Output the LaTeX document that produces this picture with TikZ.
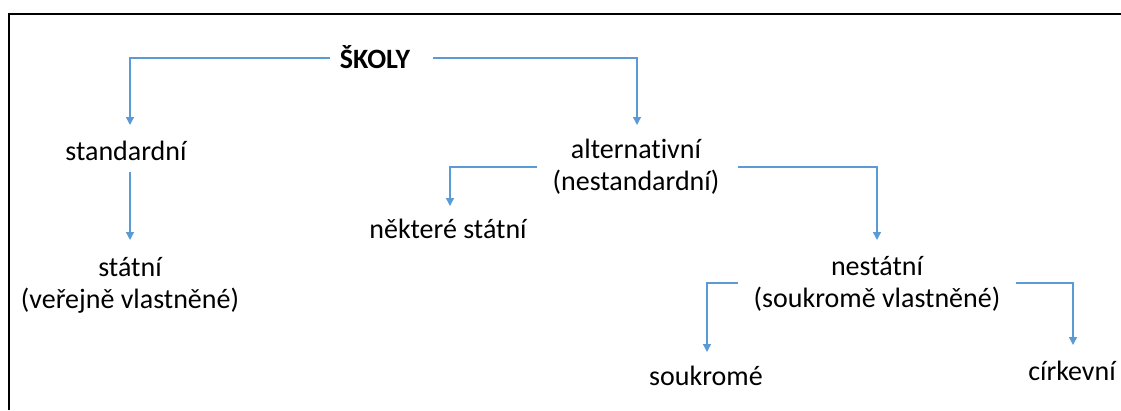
\documentclass[tikz,border=0pt]{standalone}
\usepackage{fontspec}
\setmainfont{Carlito}[Ligatures=NoCommon]
\usetikzlibrary{arrows.meta}
\definecolor{conncol}{RGB}{91,155,213}
\begin{document}
\begin{tikzpicture}[x=1pt,y=-1pt,
  lbl/.style={font=\fontsize{28}{32}\selectfont, inner sep=0pt, anchor=base, align=center},
  conn/.style={draw=conncol, line width=1.3pt, -{Triangle[width=8pt,length=8pt]}}]
\useasboundingbox (0,0) rectangle (1121,410);
\draw[line width=2pt] (9,410) -- (9,14) -- (1121,14);
\node[lbl,font=\bfseries\fontsize{28}{32}\selectfont] (skoly) at (375,68) {ŠKOLY};
\node[lbl] (standard) at (126,160) {standardní};
\node[lbl] (alt) at (636,190) {alternativní\\(nestandardní)};
\node[lbl] (nekt) at (448,238) {některé státní};
\node[lbl] (statni) at (130,308) {státní\\(veřejně vlastněné)};
\node[lbl] (nestatni) at (877,307) {nestátní\\(soukromě vlastněné)};
\node[lbl] (soukrome) at (706,385) {soukromé};
\node[lbl] (cirkevni) at (1072,380) {církevní};
\draw[conn] ([shift={(-45,-10)}]skoly.base) -| ([shift={(4,-35)}]standard.base);
\draw[conn] ([shift={(58,-10)}]skoly.base) -| ([shift={(1,-65)}]alt.base);
\draw[conn] ([shift={(4,12)}]standard.base) -- ([shift={(0,-68)}]statni.base);
\draw[conn] ([shift={(-99,-23)}]alt.base) -| ([shift={(2,-32)}]nekt.base);
\draw[conn] ([shift={(102,-23)}]alt.base) -| ([shift={(0,-67)}]nestatni.base);
\draw[conn] ([shift={(-139,-24)}]nestatni.base) -| ([shift={(1,-33)}]soukrome.base);
\draw[conn] ([shift={(139,-24)}]nestatni.base) -| ([shift={(1,-35)}]cirkevni.base);
\end{tikzpicture}
\end{document}
